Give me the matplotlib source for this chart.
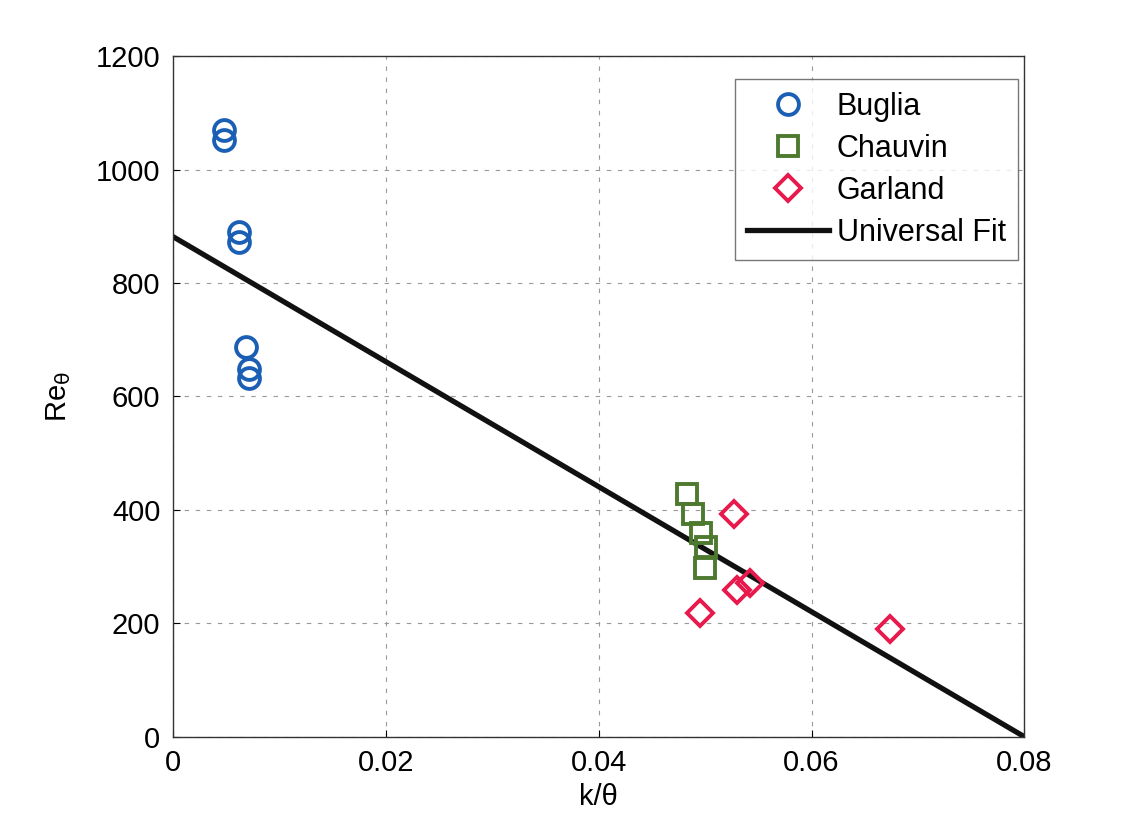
import matplotlib
matplotlib.use("Agg")
import matplotlib.pyplot as plt

plt.rcParams['font.family'] = ['Liberation Sans', 'DejaVu Sans']

buglia_x = [0.0048, 0.0048, 0.0062, 0.0062, 0.0069, 0.0072, 0.0072]
buglia_y = [1070, 1052, 890, 872, 688, 648, 632]
chauvin_x = [0.0483, 0.0489, 0.0496, 0.0501, 0.0500]
chauvin_y = [428, 393, 360, 335, 298]
garland_x = [0.0527, 0.0530, 0.0542, 0.0495, 0.0674]
garland_y = [393, 258, 272, 218, 190]
fit_x = [0.0, 0.08]
fit_y = [882, 0]

xticks = [0, 0.02, 0.04, 0.06, 0.08]
xticklabels = ['0', '0.02', '0.04', '0.06', '0.08']
yticks = [0, 200, 400, 600, 800, 1000, 1200]

fig = plt.figure(figsize=(11.37, 8.26), dpi=100)
ax = fig.add_axes([0.152, 0.108, 0.749, 0.824])

ax.plot(buglia_x, buglia_y, 'o', ls='none', mfc='none', mec='#1a5fb4', mew=2.8, ms=15, label='Buglia', zorder=3)
ax.plot(chauvin_x, chauvin_y, 's', ls='none', mfc='none', mec='#4e7a30', mew=2.8, ms=14, label='Chauvin', zorder=3)
ax.plot(garland_x, garland_y, 'D', ls='none', mfc='none', mec='#e8194c', mew=2.8, ms=13, label='Garland', zorder=3)
ax.plot(fit_x, fit_y, '-', color='#111111', lw=3.8, label='Universal Fit', zorder=2)

ax.set_xlim(0, 0.08)
ax.set_ylim(0, 1200)
ax.set_xticks(xticks)
ax.set_xticklabels(xticklabels)
ax.set_yticks(yticks)
ax.tick_params(labelsize=21, direction='in', length=5, pad=9)
ax.grid(True, ls=(0, (4, 6)), color='#999999', lw=0.8)
for s in ax.spines.values():
    s.set_linewidth(1.0)
    s.set_color('#333333')

ax.set_xlabel('k/θ', fontsize=21, labelpad=4)
ax.set_ylabel('Re$_{\\mathrm{θ}}$', fontsize=21, labelpad=16)

leg = ax.legend(loc='upper right', bbox_to_anchor=(1.0, 0.975), fontsize=22, frameon=True,
                fancybox=False, edgecolor='#555555', handlelength=2.7, borderpad=0.4,
                labelspacing=0.4, handletextpad=0.25, borderaxespad=0.2)
leg.get_frame().set_linewidth(1.0)

fig.savefig('out.png', dpi=100)
